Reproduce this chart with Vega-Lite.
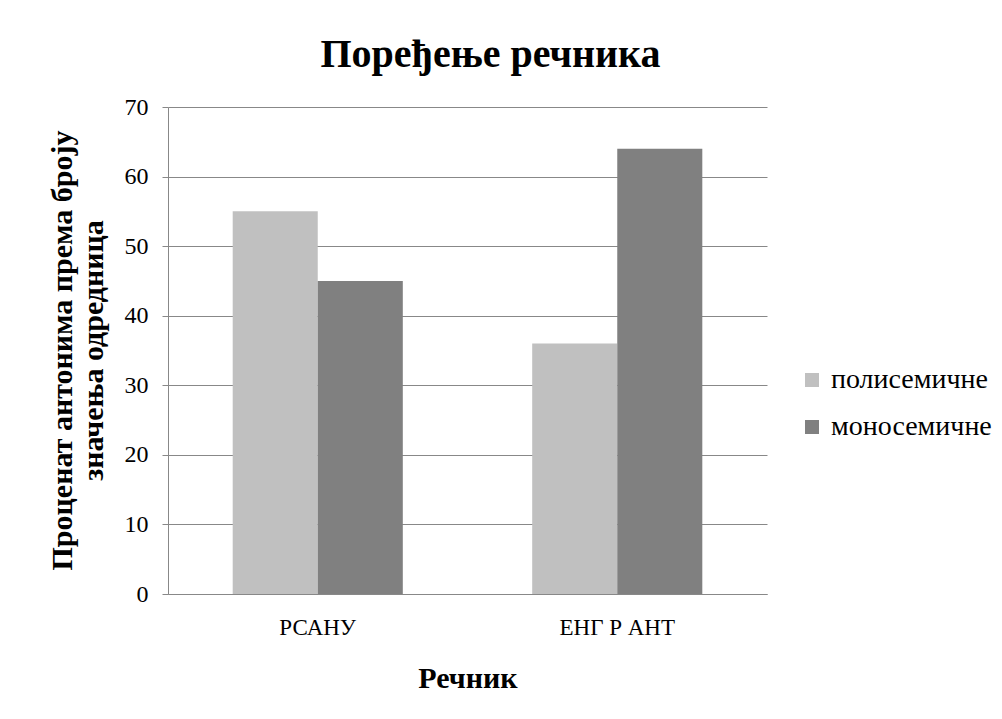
{
  "$schema": "https://vega.github.io/schema/vega-lite/v6.json",
  "autosize": {"type": "none"},
  "width": 599,
  "height": 487,
  "padding": {"left": 168, "top": 107, "right": 235, "bottom": 125},
  "background": "white",
  "config": {
    "font": "Liberation Serif",
    "view": {"stroke": null}
  },
  "title": {
    "text": "Поређење речника",
    "font": "Liberation Serif",
    "fontSize": 40,
    "fontWeight": "bold",
    "color": "black",
    "anchor": "middle",
    "frame": "group",
    "dx": 23,
    "baseline": "alphabetic",
    "offset": -12
  },
  "data": {
    "values": [
      {"recnik": "РСАНУ", "tip": "полисемичне", "procenat": 55},
      {"recnik": "РСАНУ", "tip": "моносемичне", "procenat": 45},
      {"recnik": "ЕНГ Р АНТ", "tip": "полисемичне", "procenat": 36},
      {"recnik": "ЕНГ Р АНТ", "tip": "моносемичне", "procenat": 64}
    ]
  },
  "mark": {"type": "bar"},
  "encoding": {
    "x": {
      "field": "recnik",
      "type": "nominal",
      "sort": ["РСАНУ", "ЕНГ Р АНТ"],
      "scale": {"paddingInner": 0.432, "paddingOuter": 0.216},
      "axis": {
        "title": "Речник",
        "titleFont": "Liberation Serif",
        "titleFontSize": 30,
        "titleFontWeight": "bold",
        "titleColor": "black",
        "titleBaseline": "middle",
        "titleY": 84,
        "labelAngle": 0,
        "labelFont": "Liberation Serif",
        "labelFontSize": 23,
        "labelColor": "black",
        "labelPadding": 22,
        "ticks": false,
        "domainColor": "#888888",
        "domainWidth": 1
      }
    },
    "xOffset": {
      "field": "tip",
      "type": "nominal",
      "sort": ["полисемичне", "моносемичне"],
      "scale": {"paddingInner": 0, "paddingOuter": 0}
    },
    "y": {
      "field": "procenat",
      "type": "quantitative",
      "scale": {"domain": [0, 70], "nice": false},
      "axis": {
        "values": [0, 10, 20, 30, 40, 50, 60, 70],
        "title": ["Проценат антонима према броју", "значења одредница"],
        "titleFont": "Liberation Serif",
        "titleFontSize": 30,
        "titleFontWeight": "bold",
        "titleColor": "black",
        "titleLineHeight": 31,
        "titleAngle": -90,
        "titleX": -106,
        "titleY": 243,
        "titleAlign": "center",
        "titleBaseline": "middle",
        "labelFont": "Liberation Serif",
        "labelFontSize": 24,
        "labelColor": "black",
        "labelPadding": 14,
        "tickSize": 6,
        "tickColor": "#888888",
        "domainColor": "#888888",
        "grid": true,
        "gridColor": "#888888",
        "gridWidth": 1
      }
    },
    "color": {
      "field": "tip",
      "type": "nominal",
      "sort": ["полисемичне", "моносемичне"],
      "scale": {"domain": ["полисемичне", "моносемичне"], "range": ["#c0c0c0", "#808080"]},
      "legend": {
        "title": null,
        "orient": "none",
        "legendX": 630,
        "legendY": 259,
        "symbolType": "square",
        "symbolSize": 196,
        "symbolStrokeWidth": 0,
        "labelFont": "Liberation Serif",
        "labelFontSize": 28,
        "labelColor": "black",
        "labelOffset": 5,
        "labelLimit": 300,
        "rowPadding": 19
      }
    }
  }
}
